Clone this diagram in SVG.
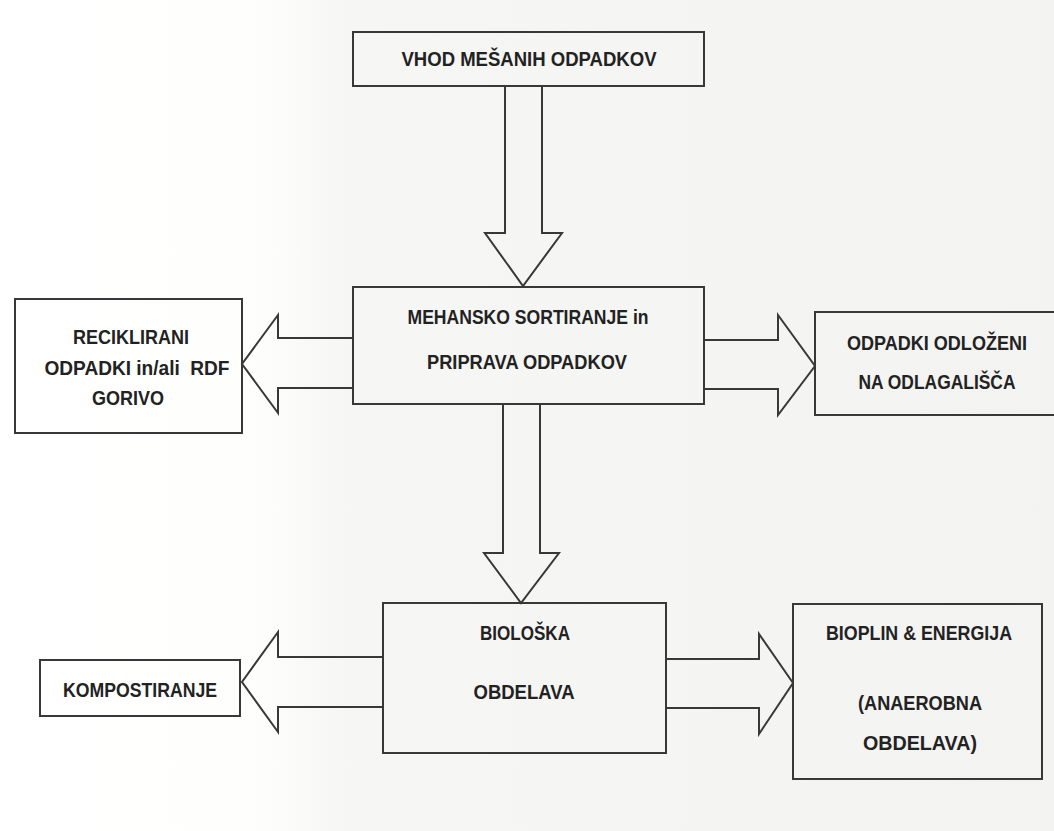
<svg xmlns="http://www.w3.org/2000/svg" width="1054" height="831" viewBox="0 0 1054 831">
  <defs>
    <linearGradient id="bg" x1="0" y1="0" x2="1" y2="0">
      <stop offset="0" stop-color="#ffffff"/>
      <stop offset="0.24" stop-color="#fefefd"/>
      <stop offset="0.33" stop-color="#f6f6f4"/>
      <stop offset="1" stop-color="#f3f3f1"/>
    </linearGradient>
    <style>
      .box { fill: none; stroke: #383838; stroke-width: 2; }
      .arr { fill: none; stroke: #383838; stroke-width: 2; stroke-linejoin: miter; }
      .t { font-family: "Liberation Sans", Arial, sans-serif; font-weight: bold; font-size: 20px; fill: #222222; text-anchor: middle; }
    </style>
  </defs>
  <rect x="0" y="0" width="1054" height="831" fill="url(#bg)"/>

  <g id="connectors">
    <polyline class="arr" points="505,86 505,233 485,233 523,286 562,233 542,233 542,86"/>
    <polyline class="arr" points="353,338 278,338 278,315 242,364 278,413 278,388 353,388"/>
    <polyline class="arr" points="704,340 778,340 778,315 815,366 778,415 778,389 704,389"/>
    <polyline class="arr" points="503,404 503,553 484,553 521,603 559,553 540,553 540,404"/>
    <polyline class="arr" points="383,657 278,657 278,632 242,682 278,732 278,707 383,707"/>
    <polyline class="arr" points="666,659 759,659 759,634 793,683 759,734 759,708 666,708"/>
  </g>

  <g id="vhod">
    <rect class="box" x="353" y="32" width="351" height="54"/>
    <text class="t" x="529" y="66" textLength="255" lengthAdjust="spacingAndGlyphs">VHOD MEŠANIH ODPADKOV</text>
  </g>

  <g id="mehansko">
    <rect class="box" x="353" y="287" width="351" height="117"/>
    <text class="t" x="528" y="324" textLength="241" lengthAdjust="spacingAndGlyphs">MEHANSKO SORTIRANJE in</text>
    <text class="t" x="527" y="369" textLength="200" lengthAdjust="spacingAndGlyphs">PRIPRAVA ODPADKOV</text>
  </g>

  <g id="reciklirani">
    <rect class="box" x="15" y="299" width="227" height="134"/>
    <text class="t" x="131" y="344" textLength="116" lengthAdjust="spacingAndGlyphs">RECIKLIRANI</text>
    <text class="t" x="137" y="375" textLength="185" lengthAdjust="spacingAndGlyphs" xml:space="preserve">ODPADKI in/ali  RDF</text>
    <text class="t" x="128" y="405" textLength="72" lengthAdjust="spacingAndGlyphs">GORIVO</text>
  </g>

  <g id="odlozeni">
    <rect class="box" x="815" y="312" width="260" height="103"/>
    <text class="t" x="937" y="350" textLength="180" lengthAdjust="spacingAndGlyphs">ODPADKI ODLOŽENI</text>
    <text class="t" x="937" y="389" textLength="157" lengthAdjust="spacingAndGlyphs">NA ODLAGALIŠČA</text>
  </g>

  <g id="bioloska">
    <rect class="box" x="383" y="603" width="283" height="150"/>
    <text class="t" x="525" y="640" textLength="90" lengthAdjust="spacingAndGlyphs">BIOLOŠKA</text>
    <text class="t" x="524" y="699" textLength="101" lengthAdjust="spacingAndGlyphs">OBDELAVA</text>
  </g>

  <g id="kompostiranje">
    <rect class="box" x="40" y="660" width="200" height="56"/>
    <text class="t" x="140" y="697" textLength="154" lengthAdjust="spacingAndGlyphs">KOMPOSTIRANJE</text>
  </g>

  <g id="bioplin">
    <rect class="box" x="793" y="604" width="249" height="175"/>
    <text class="t" x="919" y="640" textLength="186" lengthAdjust="spacingAndGlyphs">BIOPLIN &amp; ENERGIJA</text>
    <text class="t" x="920" y="710" textLength="124" lengthAdjust="spacingAndGlyphs">(ANAEROBNA</text>
    <text class="t" x="920" y="750" textLength="114" lengthAdjust="spacingAndGlyphs">OBDELAVA)</text>
  </g>
</svg>
